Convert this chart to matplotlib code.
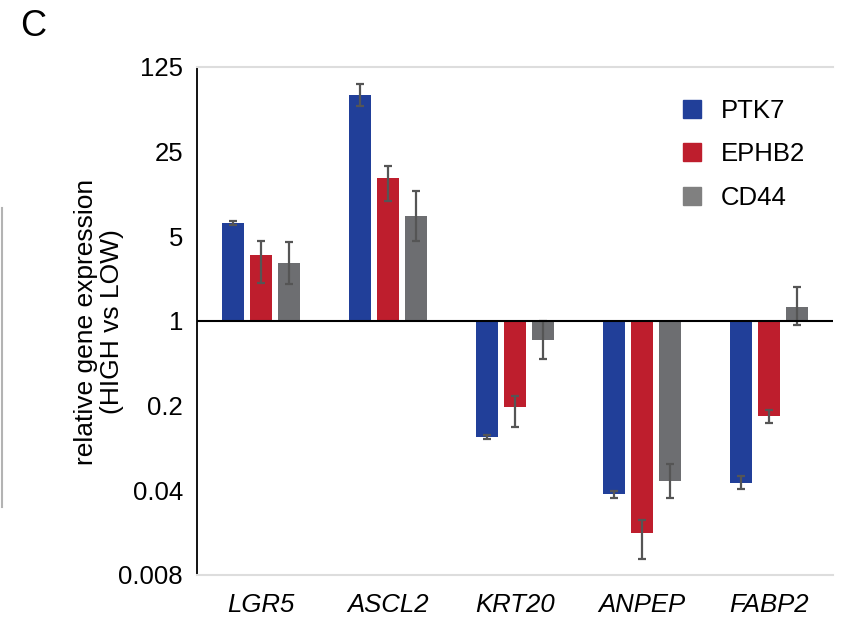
import numpy as np
import matplotlib
matplotlib.use("Agg")
from matplotlib import pyplot as plt
from matplotlib.patches import Patch
from matplotlib.lines import Line2D

plt.rcParams['font.family'] = ['Liberation Sans', 'DejaVu Sans']

genes = ["LGR5", "ASCL2", "KRT20", "ANPEP", "FABP2"]
series = ["PTK7", "EPHB2", "CD44"]
colors = ["#213F99", "#BE1E2D", "#6D6E71"]
legend_colors = ["#213F99", "#BE1E2D", "#808080"]

# mean fold change (HIGH vs LOW)
ptk7 = [6.4, 73.0, 0.110, 0.0374, 0.046]
ephb2 = [3.5, 15.1, 0.195, 0.0179, 0.165]
cd44 = [3.0, 7.35, 0.695, 0.0478, 1.30]

# error bar ends (low, high)
ptk7_lo = [6.19, 59.3, 0.106, 0.0345, 0.0410]
ptk7_hi = [6.69, 90.0, 0.115, 0.0397, 0.0526]
ephb2_lo = [2.06, 9.78, 0.133, 0.0109, 0.144]
ephb2_hi = [4.57, 19.0, 0.240, 0.0228, 0.184]
cd44_lo = [2.02, 4.57, 0.486, 0.0345, 0.927]
cd44_hi = [4.49, 11.8, 1.0, 0.066, 1.91]

yticks = [0.008, 0.04, 0.2, 1, 5, 25, 125]
ytick_labels = ["0.008", "0.04", "0.2", "1", "5", "25", "125"]

W, H = 843, 621
fig = plt.figure(figsize=(W / 100, H / 100), dpi=100)
ax = fig.add_axes([197 / W, 1 - 575 / H, (833 - 197) / W, (575 - 67) / H])

x = np.arange(len(genes))
width = 0.173
pitch = 0.22
vals = [ptk7, ephb2, cd44]
los = [ptk7_lo, ephb2_lo, cd44_lo]
his = [ptk7_hi, ephb2_hi, cd44_hi]
for i in range(3):
    v = np.array(vals[i])
    lo = np.array(los[i])
    hi = np.array(his[i])
    xs = x + (i - 1) * pitch
    ax.bar(xs, v - 1, bottom=1, width=width, color=colors[i], zorder=2)
    ax.errorbar(xs, v, yerr=[v - lo, hi - v], fmt='none', ecolor='#555555',
                elinewidth=1.6, capsize=3, capthick=1.6, zorder=3)

ax.set_yscale('log', base=5)
ax.set_ylim(0.008, 125)
ax.set_xlim(-0.5, 4.5)
ax.set_yticks(yticks)
ax.set_yticklabels(ytick_labels)
ax.yaxis.set_minor_locator(matplotlib.ticker.NullLocator())
ax.set_xticks(x)
ax.set_xticklabels(genes, fontstyle='italic')
ax.tick_params(axis='y', length=0, pad=10, labelsize=18.5)
ax.tick_params(axis='x', length=0, pad=13, labelsize=18.5)

ax.axhline(1, color='black', lw=1.5, zorder=4)
ax.spines['right'].set_visible(False)
ax.spines['top'].set_color('#dddddd')
ax.spines['bottom'].set_color('#dddddd')
ax.spines['top'].set_linewidth(1.5)
ax.spines['bottom'].set_linewidth(1.5)
ax.spines['left'].set_color('black')
ax.spines['left'].set_linewidth(1.3)

handles = [Patch(color=c, label=s) for c, s in zip(legend_colors, series)]
ax.legend(handles=handles, loc='upper left', bbox_to_anchor=(683 / W, 1 - 99 / H),
          bbox_transform=fig.transFigure, frameon=False, fontsize=18.5,
          handlelength=0.7, handleheight=0.7, handletextpad=0.78,
          labelspacing=0.75, borderpad=0, borderaxespad=0)

fig.text(99 / W, 1 - 322 / H, "relative gene expression\n(HIGH vs LOW)",
         rotation=90, ha='center', va='center', multialignment='center',
         fontsize=19, linespacing=1.15)
fig.text(33 / W, 1 - 26 / H, "C", ha='center', va='center', fontsize=26)
fig.add_artist(Line2D([1.5 / W, 1.5 / W], [1 - 208 / H, 1 - 507 / H],
                      color='#b3b3b3', lw=1.5))

fig.savefig("out.png", dpi=100)
